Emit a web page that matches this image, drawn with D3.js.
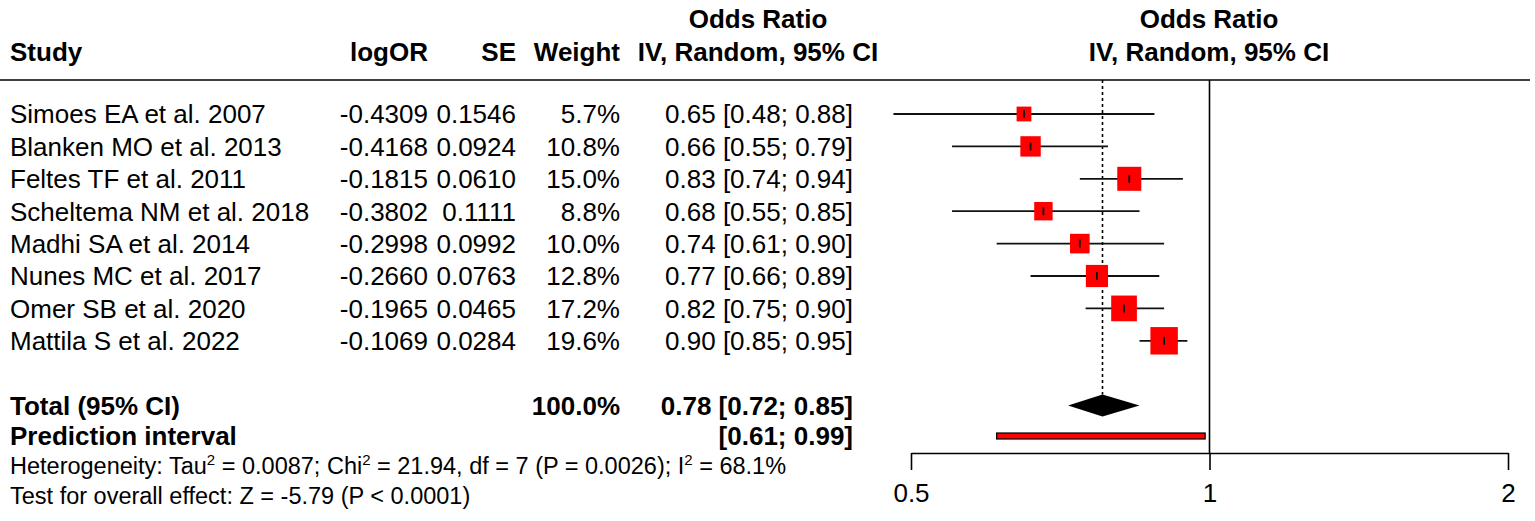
<!DOCTYPE html>
<html>
<head>
<meta charset="utf-8">
<script src="https://cdn.jsdelivr.net/npm/d3@7"></script>
<style>
  body { margin: 0; background: #fff; }
  text { font-family: "Liberation Sans", Arial, sans-serif; fill: #000; }
</style>
</head>
<body>
<script>
// data
var studies = ["Simoes EA et al. 2007", "Blanken MO et al. 2013", "Feltes TF et al. 2011",
               "Scheltema NM et al. 2018", "Madhi SA et al. 2014", "Nunes MC et al. 2017",
               "Omer SB et al. 2020", "Mattila S et al. 2022"];
var logOR = ["-0.4309", "-0.4168", "-0.1815", "-0.3802", "-0.2998", "-0.2660", "-0.1965", "-0.1069"];
var se = ["0.1546", "0.0924", "0.0610", "0.1111", "0.0992", "0.0763", "0.0465", "0.0284"];
var weight = [5.7, 10.8, 15.0, 8.8, 10.0, 12.8, 17.2, 19.6];
var or = [0.65, 0.66, 0.83, 0.68, 0.74, 0.77, 0.82, 0.90];
var lower = [0.48, 0.55, 0.74, 0.55, 0.61, 0.66, 0.75, 0.85];
var upper = [0.88, 0.79, 0.94, 0.85, 0.90, 0.89, 0.90, 0.95];
var total = {or: 0.78, lo: 0.72, hi: 0.85};
var predInt = [0.61, 0.99];
var ticks = [0.5, 1, 2];

var width = 1535, height = 521;
var fs = 26;

var svg = d3.select("body").append("svg")
    .attr("width", width)
    .attr("height", height);

var x = d3.scaleLog().domain([0.5, 2]).range([911, 1508]);
var row = d3.scaleLinear().domain([0, 1]).range([114, 146.4]);

var f2 = d3.format(".2f");

// header
function hdr(txt, xx, yy, anchor) {
    svg.append("text").text(txt)
        .attr("x", xx).attr("y", yy)
        .attr("text-anchor", anchor)
        .attr("font-weight", "bold")
        .attr("font-size", fs);
}
hdr("Study", 10, 61, "start");
hdr("logOR", 428, 61, "end");
hdr("SE", 516, 61, "end");
hdr("Weight", 620, 61, "end");
hdr("Odds Ratio", 758, 28, "middle");
hdr("IV, Random, 95% CI", 758, 61, "middle");
hdr("Odds Ratio", 1209, 28, "middle");
hdr("IV, Random, 95% CI", 1209, 61, "middle");

svg.append("line")
    .attr("x1", 0).attr("x2", 1530)
    .attr("y1", 80).attr("y2", 80)
    .attr("stroke", "#000").attr("stroke-width", 1.6);

// study rows
var cols = [
    {v: function(d, i) { return studies[i]; }, x: 10, a: "start"},
    {v: function(d, i) { return logOR[i]; }, x: 428, a: "end"},
    {v: function(d, i) { return se[i]; }, x: 516, a: "end"},
    {v: function(d, i) { return weight[i].toFixed(1) + "%"; }, x: 620, a: "end"},
    {v: function(d, i) { return f2(or[i]) + " [" + f2(lower[i]) + "; " + f2(upper[i]) + "]"; }, x: 853, a: "end"}
];
cols.forEach(function(c) {
    svg.append("g").selectAll("text")
        .data(studies)
        .enter()
        .append("text")
        .text(c.v)
        .attr("x", c.x)
        .attr("y", function(d, i) { return row(i); })
        .attr("dy", "0.36em")
        .attr("text-anchor", c.a)
        .attr("font-size", fs);
});

// reference line at 1
svg.append("line")
    .attr("x1", x(1)).attr("x2", x(1))
    .attr("y1", 80).attr("y2", 453)
    .attr("stroke", "#000").attr("stroke-width", 1.6);

// pooled estimate dotted line
svg.append("line")
    .attr("x1", x(total.or)).attr("x2", x(total.or))
    .attr("y1", 80).attr("y2", row(9) - 11)
    .attr("stroke", "#000").attr("stroke-width", 1.6)
    .attr("stroke-dasharray", "3,3");

var marks = svg.append("g");
// CI lines
marks.selectAll("line.ci")
    .data(studies)
    .enter()
    .append("line")
    .attr("class", "ci")
    .attr("x1", function(d, i) { return x(lower[i]); })
    .attr("x2", function(d, i) { return x(upper[i]); })
    .attr("y1", function(d, i) { return row(i); })
    .attr("y2", function(d, i) { return row(i); })
    .attr("stroke", "#111").attr("stroke-width", 1.8);

// squares, area ~ weight
var side = function(w) { return 6.2 * Math.sqrt(w); };
marks.selectAll("rect.sq")
    .data(studies)
    .enter()
    .append("rect")
    .attr("class", "sq")
    .attr("x", function(d, i) { return x(or[i]) - side(weight[i]) / 2; })
    .attr("y", function(d, i) { return row(i) - side(weight[i]) / 2; })
    .attr("width", function(d, i) { return side(weight[i]); })
    .attr("height", function(d, i) { return side(weight[i]); })
    .attr("fill", "#f00");

marks.selectAll("line.pt")
    .data(studies)
    .enter()
    .append("line")
    .attr("class", "pt")
    .attr("x1", function(d, i) { return x(or[i]); })
    .attr("x2", function(d, i) { return x(or[i]); })
    .attr("y1", function(d, i) { return row(i) - 4; })
    .attr("y2", function(d, i) { return row(i) + 4; })
    .attr("stroke", "#111").attr("stroke-width", 1.8);

// total diamond
var ty = row(9);
svg.append("path")
    .attr("d", "M" + x(total.lo) + "," + ty +
               "L" + x(total.or) + "," + (ty - 11) +
               "L" + x(total.hi) + "," + ty +
               "L" + x(total.or) + "," + (ty + 11) + "Z")
    .attr("fill", "#000");

// prediction interval
var py = row(10) - 2;
svg.append("rect")
    .attr("x", x(predInt[0]))
    .attr("y", py - 3)
    .attr("width", x(predInt[1]) - x(predInt[0]))
    .attr("height", 6)
    .attr("fill", "#f00")
    .attr("stroke", "#000").attr("stroke-width", 1.2);

// bottom text
function bold(txt, xx, yy, anchor) {
    svg.append("text").text(txt)
        .attr("x", xx).attr("y", yy).attr("dy", "0.36em")
        .attr("text-anchor", anchor)
        .attr("font-weight", "bold")
        .attr("font-size", fs);
}
bold("Total (95% CI)", 10, ty, "start");
bold("100.0%", 620, ty, "end");
bold(f2(total.or) + " [" + f2(total.lo) + "; " + f2(total.hi) + "]", 853, ty, "end");
bold("Prediction interval", 10, py, "start");
bold("[" + f2(predInt[0]) + "; " + f2(predInt[1]) + "]", 853, py, "end");

var hs = 23.5;
var het = svg.append("text")
    .attr("x", 10).attr("y", 474)
    .attr("font-size", hs);
het.append("tspan").text("Heterogeneity: Tau");
het.append("tspan").text("2").attr("font-size", 15).attr("dy", -9);
het.append("tspan").text(" = 0.0087; Chi").attr("dy", 9);
het.append("tspan").text("2").attr("font-size", 15).attr("dy", -9);
het.append("tspan").text(" = 21.94, df = 7 (P = 0.0026); I").attr("dy", 9);
het.append("tspan").text("2").attr("font-size", 15).attr("dy", -9);
het.append("tspan").text(" = 68.1%").attr("dy", 9);

svg.append("text")
    .text("Test for overall effect: Z = -5.79 (P < 0.0001)")
    .attr("x", 10).attr("y", 504)
    .attr("font-size", hs);

// axis
var axis = d3.axisBottom(x)
    .tickValues(ticks)
    .tickFormat(d3.format(""))
    .tickSize(17)
    .tickSizeOuter(0)
    .tickPadding(14);
var ag = svg.append("g")
    .attr("transform", "translate(0,453)")
    .call(axis);
ag.select(".domain").attr("stroke-width", 1.6);
ag.selectAll(".tick line").attr("stroke-width", 1.6);
ag.selectAll(".tick text")
    .attr("font-size", fs)
    .attr("font-family", "Liberation Sans, Arial, sans-serif");
</script>
</body>
</html>
